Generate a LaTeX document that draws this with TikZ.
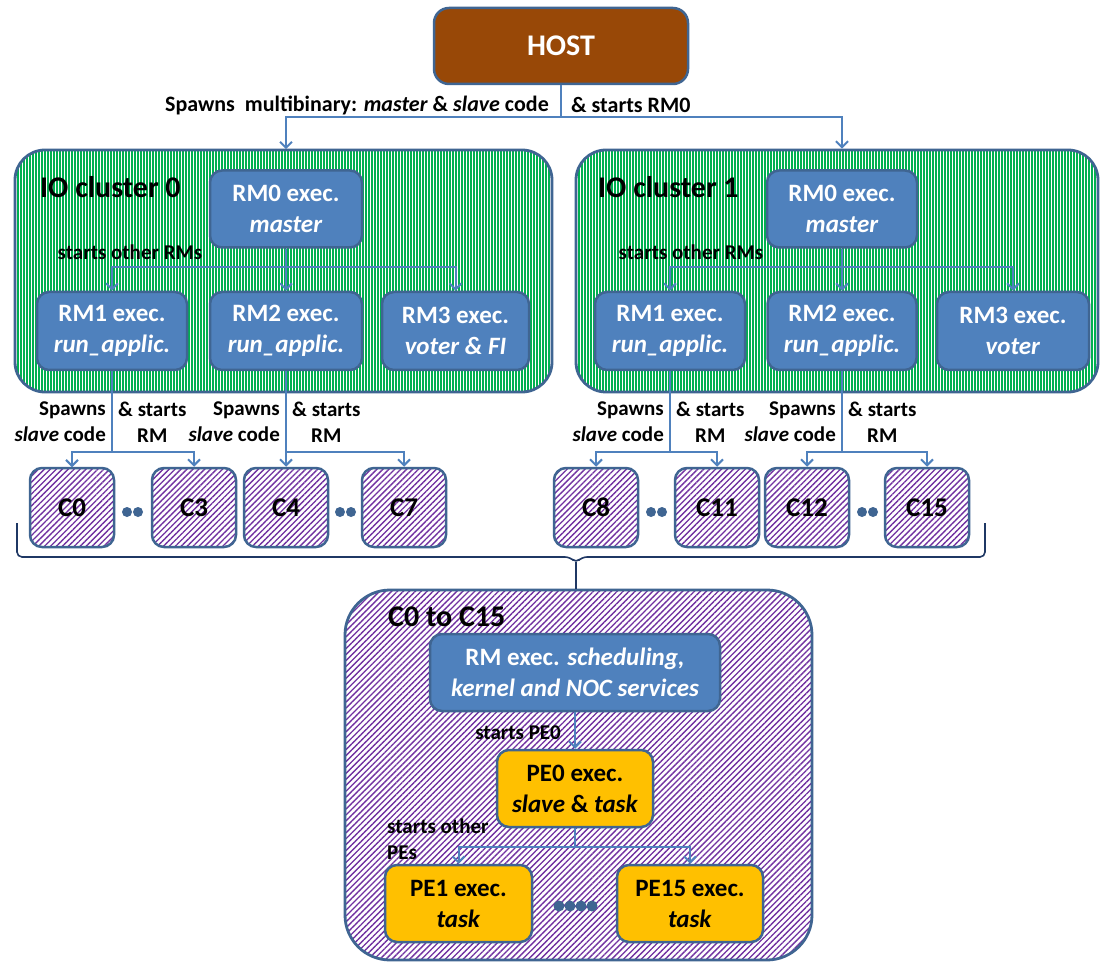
\documentclass[tikz,border=0pt]{standalone}
\usepackage{fontspec}
\setmainfont{Carlito}
\usetikzlibrary{arrows.meta,patterns.meta}
\definecolor{hostbrown}{HTML}{984807}
\definecolor{boxblue}{HTML}{4F81BD}
\definecolor{edgeblue}{HTML}{3F6592}
\definecolor{linkblue}{HTML}{4F81BD}
\definecolor{stripegreen}{HTML}{00B050}
\definecolor{stripepurple}{HTML}{7030A0}
\definecolor{peyellow}{HTML}{FFC000}
\definecolor{bracenavy}{HTML}{1F3864}
\newcommand\fsz[2]{\fontsize{#1}{#2}\selectfont}
\tikzset{
  boxbase/.style={draw=edgeblue, line width=2.5pt, rounded corners=12pt, align=center, inner sep=0pt},
  bluebox/.style={boxbase, fill=boxblue, text=white, font=\bfseries\fsz{25}{31}},
  pebox/.style={boxbase, fill=peyellow, text=black, font=\bfseries\fsz{25}{31}, minimum height=77pt},
  rmbox/.style={bluebox, minimum height=78pt},
  cbox/.style={boxbase, preaction={fill=white}, pattern={Lines[angle=45,distance=4.2pt,line width=1.35pt]}, pattern color=stripepurple, minimum width=84pt, minimum height=79pt, font=\bfseries\fsz{27}{31}},
  greenclu/.style={draw=edgeblue, line width=2.8pt, rounded corners=30pt, preaction={fill=white}, pattern={Lines[angle=90,distance=3pt,line width=1.6pt]}, pattern color=stripegreen},
  purpleclu/.style={draw=edgeblue, line width=2.8pt, rounded corners=45pt, preaction={fill=white}, pattern={Lines[angle=45,distance=4.2pt,line width=1.35pt]}, pattern color=stripepurple},
  clulabel/.style={anchor=west, font=\bfseries\fsz{30}{36}, inner sep=0pt},
  smalllabel/.style={font=\bfseries\fsz{21}{26}, inner sep=0pt},
  link/.style={draw=linkblue, line width=2pt},
  arr/.style={link, -{Straight Barb[length=6pt,width=12pt]}},
  dot/.style={circle, fill=edgeblue, inner sep=0pt, minimum size=10pt},
  bigdot/.style={circle, fill=edgeblue, inner sep=0pt, minimum size=11pt},
  bracestyle/.style={draw=bracenavy, line width=1.6pt},
}
\begin{document}
\begin{tikzpicture}[x=1pt,y=-1pt]
\useasboundingbox (0,0) rectangle (1103,965);
\fill[white] (0,0) rectangle (1103,965);

% HOST
\node[boxbase, rounded corners=15pt, fill=hostbrown, text=white, font=\bfseries\fsz{30}{36}, minimum width=254pt, minimum height=76pt] (host) at (561,46) {HOST};

% IO clusters
\node[greenclu, minimum width=537pt, minimum height=242pt] (io0) at (283.5,271) {};
\node[greenclu, minimum width=522pt, minimum height=242pt] (io1) at (837,271) {};
\node[clulabel] (io0lbl) at (40,187) {IO cluster 0};
\node[clulabel] (io1lbl) at (598,187) {IO cluster 1};

% top labels and connectors
\node[anchor=east, font=\bfseries\fsz{22}{26}, inner sep=0pt] (spawnlbl) at (549,105) {Spawns\ \ multibinary: \textit{master} \& \textit{slave} code};
\node[anchor=west, font=\bfseries\fsz{22}{26}, inner sep=0pt] (startlbl) at (571,105) {\& starts RM0};

% cluster 0 boxes
\node[bluebox, minimum width=152pt, minimum height=77pt] (rm0a) at (286,209) {RM0 exec.\\\textit{master}};
\node[rmbox, minimum width=150pt] (rm1a) at (112,331) {RM1 exec.\\\textit{run\_applic.}};
\node[rmbox, minimum width=152pt] (rm2a) at (286,331) {RM2 exec.\\\textit{run\_applic.}};
\node[rmbox, minimum width=147pt] (rm3a) at (455.5,331) {RM3 exec.\\\textit{voter \& FI}};
\node[smalllabel] (sora) at (130,252) {starts other RMs};

% cluster 1 boxes
\node[bluebox, minimum width=150pt, minimum height=77pt] (rm0b) at (842,209) {RM0 exec.\\\textit{master}};
\node[rmbox, minimum width=150pt] (rm1b) at (670,331) {RM1 exec.\\\textit{run\_applic.}};
\node[rmbox, minimum width=149pt] (rm2b) at (842,331) {RM2 exec.\\\textit{run\_applic.}};
\node[rmbox, minimum width=152pt] (rm3b) at (1013,331) {RM3 exec.\\\textit{voter}};
\node[smalllabel] (sorb) at (691,252) {starts other RMs};

% host connectors
\coordinate (hb) at (host.south |- 0,117);
\draw[link] (host.south) -- (hb);
\draw[arr] (hb) -| (rm0a.north |- io0.north);
\draw[arr] (hb) -| (rm0b.north |- io1.north);

% RM connectors
\draw[link] (rm0a.south) -- ++(0,18) coordinate (ba);
\draw[arr] (ba) -- (rm2a.north);
\draw[arr] (ba) -| (rm1a.north);
\draw[arr] (ba) -| (rm3a.north);
\draw[link] (rm0b.south) -- ++(0,18) coordinate (bb);
\draw[arr] (bb) -- (rm2b.north);
\draw[arr] (bb) -| (rm1b.north);
\draw[arr] (bb) -| (rm3b.north);

% C boxes
\foreach \n/\t/\x in {c0/C0/72, c3/C3/194, c4/C4/286, c7/C7/404, c8/C8/596, c11/C11/717, c12/C12/807, c15/C15/927}{
  \node[cbox] (\n) at (\x,507.5) {\t};
}
\node[dot] (d1) at (127,512) {};
\node[dot] (d2) at (138,512) {};
\node[dot] (d3) at (340,512) {};
\node[dot] (d4) at (351,512) {};
\node[dot] (d5) at (651,512) {};
\node[dot] (d6) at (662,512) {};
\node[dot] (d7) at (862,512) {};
\node[dot] (d8) at (873,512) {};

% C connectors
\draw[link] (rm1a.south) -- (rm1a.south |- 0,452) coordinate (k1);
\draw[arr] (k1) -| (c0.north);
\draw[arr] (k1) -| (c3.north);
\draw[link] (rm2a.south) -- (rm2a.south |- 0,452) coordinate (k2);
\draw[arr] (k2) -- (c4.north);
\draw[arr] (k2) -| (c7.north);
\draw[link] (rm1b.south) -- (rm1b.south |- 0,452) coordinate (k3);
\draw[arr] (k3) -| (c8.north);
\draw[arr] (k3) -| (c11.north);
\draw[link] (rm2b.south) -- (rm2b.south |- 0,452) coordinate (k4);
\draw[arr] (k4) -| (c12.north);
\draw[arr] (k4) -| (c15.north);

% spawn labels
\foreach \k/\s in {k1/ka, k2/kb, k3/kc, k4/kd}{
  \node[smalllabel, align=right, anchor=east] (\s l) at ([xshift=-6pt,yshift=30pt]\k) {Spawns\\\textit{slave} code};
  \node[smalllabel, align=center, anchor=west] (\s r) at ([xshift=6pt,yshift=30pt]\k) {\& starts\\RM};
}

% lower cluster
\node[purpleclu, minimum width=467pt, minimum height=370pt] (cbig) at (578.5,775) {};
\node[clulabel] (cbiglbl) at (388,617) {C0 to C15};
\draw[bracestyle, rounded corners=5pt] (17,523) |- (570,557) -- (576,563) -- (582,557) -| (985,523);
\coordinate (bt) at (576,562);
\draw[bracestyle] (bt) -- (bt |- cbig.north);

\node[bluebox, minimum width=290pt, minimum height=77pt] (rmx) at (575,672.5) {RM exec. \textit{scheduling,}\\\textit{kernel and NOC services}};
\node[pebox, minimum width=156pt] (pe0) at (575,788.5) {PE0 exec.\\\textit{slave} \& \textit{task}};
\node[pebox, minimum width=147pt] (pe1) at (458.5,903.5) {PE1 exec.\\\textit{task}};
\node[pebox, minimum width=146pt] (pe15) at (690,903.5) {PE15 exec.\\\textit{task}};
\node[smalllabel, anchor=east] (spe0) at (561,733) {starts PE0};
\node[smalllabel, anchor=west, align=left] (sope) at (387,839) {starts other\\PEs};
\draw[arr] (rmx.south) -- (pe0.north);
\draw[link] (pe0.south) -- ++(0,19) coordinate (pb);
\draw[arr] (pb) -| (pe1.north);
\draw[arr] (pb) -| (pe15.north);
\node[bigdot] (e1) at (559,906) {};
\node[bigdot] (e2) at (570,906) {};
\node[bigdot] (e3) at (581,906) {};
\node[bigdot] (e4) at (592,906) {};
\end{tikzpicture}
\end{document}
